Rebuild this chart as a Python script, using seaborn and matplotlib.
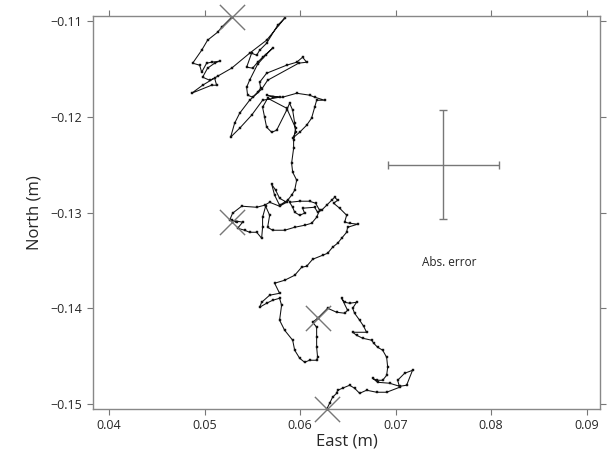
import numpy as np
import pandas as pd
import matplotlib
matplotlib.use("Agg")
import matplotlib.pyplot as plt
import seaborn as sns

# trajectory (East, North) in metres
east = [0.05283, 0.05178, 0.05136, 0.05031, 0.04969, 0.04875, 0.04948, 0.04969, 0.05021, 0.05073,
        0.05157, 0.05105, 0.05031, 0.04979, 0.05052, 0.05105, 0.05126, 0.05073, 0.04864, 0.04979,
        0.05136, 0.05283, 0.05471, 0.05649, 0.05838, 0.05765, 0.05649, 0.05576, 0.05545, 0.05492,
        0.05440, 0.05503, 0.05555, 0.05607, 0.05712, 0.05639, 0.05555, 0.05471, 0.05440, 0.05450,
        0.05503, 0.05555, 0.05587, 0.05576, 0.05649, 0.05859, 0.05964, 0.06026, 0.06068, 0.05985,
        0.05660, 0.05597, 0.05471, 0.05367, 0.05314, 0.05272, 0.05367, 0.05492, 0.05607, 0.05785,
        0.05649, 0.05712, 0.05817, 0.05964, 0.06099, 0.06152, 0.06257, 0.06173, 0.06152, 0.06120,
        0.06068, 0.05995, 0.05922, 0.05953, 0.05943, 0.05922, 0.05890, 0.05859, 0.05754, 0.05702,
        0.05649, 0.05628, 0.05607, 0.05660, 0.05859, 0.05953, 0.05932, 0.05932, 0.05911, 0.05922,
        0.05964, 0.05943, 0.05911, 0.05869, 0.05785, 0.05733, 0.05702, 0.05744, 0.05785, 0.05859,
        0.05785, 0.05681, 0.05628, 0.05545, 0.05388, 0.05293, 0.05262, 0.05335, 0.05283, 0.05398,
        0.05346, 0.05419, 0.05471, 0.05545, 0.05597, 0.05607, 0.05607, 0.05639, 0.05681, 0.05660,
        0.05712, 0.05838, 0.05943, 0.06047, 0.06120, 0.06173, 0.06204, 0.06162, 0.06099, 0.05995,
        0.05890, 0.05922, 0.05943, 0.05995, 0.06047, 0.06026, 0.06152, 0.06183, 0.06225, 0.06278,
        0.06330, 0.06361, 0.06393, 0.06351, 0.06414, 0.06487, 0.06466, 0.06518, 0.06602, 0.06497,
        0.06487, 0.06435, 0.06393, 0.06340, 0.06288, 0.06236, 0.06131, 0.06068, 0.06016, 0.05943,
        0.05838, 0.05733, 0.05785, 0.05681, 0.05597, 0.05576, 0.05649, 0.05712, 0.05785, 0.05806,
        0.05785, 0.05838, 0.05922, 0.05943, 0.05995, 0.06047, 0.06099, 0.06173, 0.06183, 0.06173,
        0.06173, 0.06173, 0.06131, 0.06183, 0.06288, 0.06382, 0.06466, 0.06497, 0.06435, 0.06466,
        0.06518, 0.06591, 0.06550, 0.06570, 0.06623, 0.06665, 0.06696, 0.06550, 0.06591, 0.06654,
        0.06749, 0.06770, 0.06811, 0.06864, 0.06906, 0.06917, 0.06906, 0.06864, 0.06801, 0.06759,
        0.06811, 0.06937, 0.07042, 0.07115, 0.07177, 0.07094, 0.07021, 0.07042, 0.06906, 0.06801,
        0.06696, 0.06623, 0.06570, 0.06518, 0.06445, 0.06393, 0.06382, 0.06340, 0.06309, 0.06278]
north = [-0.10961, -0.11066, -0.11118, -0.11201, -0.11306, -0.11441, -0.11462, -0.11535, -0.11441, -0.11431,
         -0.11420, -0.11441, -0.11493, -0.11587, -0.11619, -0.11598, -0.11671, -0.11671, -0.11755, -0.11671,
         -0.11577, -0.11493, -0.11337, -0.11201, -0.10972, -0.11045, -0.11233, -0.11306, -0.11358, -0.11337,
         -0.11483, -0.11493, -0.11431, -0.11379, -0.11285, -0.11358, -0.11452, -0.11619, -0.11692, -0.11775,
         -0.11796, -0.11744, -0.11702, -0.11640, -0.11546, -0.11462, -0.11431, -0.11379, -0.11431, -0.11441,
         -0.11619, -0.11713, -0.11828, -0.11963, -0.12068, -0.12214, -0.12120, -0.11984, -0.11828, -0.11796,
         -0.11775, -0.11796, -0.11796, -0.11755, -0.11775, -0.11796, -0.11828, -0.11828, -0.11901, -0.12015,
         -0.12089, -0.12162, -0.12224, -0.12162, -0.12068, -0.11932, -0.11859, -0.11932, -0.12141, -0.12162,
         -0.12109, -0.12005, -0.11901, -0.11807, -0.11911, -0.12120, -0.12245, -0.12329, -0.12485, -0.12579,
         -0.12662, -0.12767, -0.12819, -0.12872, -0.12924, -0.12819, -0.12705, -0.12767, -0.12851, -0.12893,
         -0.12934, -0.12893, -0.12924, -0.12945, -0.12934, -0.13007, -0.13080, -0.13101, -0.13080, -0.13101,
         -0.13164, -0.13185, -0.13206, -0.13206, -0.13268, -0.13154, -0.13049, -0.12934, -0.13028, -0.13154,
         -0.13185, -0.13185, -0.13154, -0.13133, -0.13112, -0.13049, -0.12976, -0.12903, -0.12882, -0.12882,
         -0.12893, -0.12945, -0.12997, -0.13028, -0.13007, -0.12955, -0.12945, -0.12997, -0.12976, -0.12924,
         -0.12872, -0.12840, -0.12872, -0.12903, -0.12955, -0.13028, -0.13101, -0.13112, -0.13122, -0.13154,
         -0.13206, -0.13268, -0.13320, -0.13362, -0.13425, -0.13446, -0.13488, -0.13561, -0.13571, -0.13655,
         -0.13707, -0.13738, -0.13843, -0.13863, -0.13937, -0.13989, -0.13947, -0.13916, -0.13895, -0.13968,
         -0.14124, -0.14229, -0.14333, -0.14437, -0.14521, -0.14563, -0.14542, -0.14542, -0.14511, -0.14406,
         -0.14302, -0.14197, -0.14145, -0.14104, -0.13999, -0.14041, -0.14051, -0.14020, -0.13895, -0.13937,
         -0.13947, -0.13937, -0.13999, -0.14051, -0.14124, -0.14187, -0.14250, -0.14250, -0.14281, -0.14312,
         -0.14333, -0.14364, -0.14406, -0.14437, -0.14511, -0.14615, -0.14699, -0.14751, -0.14751, -0.14730,
         -0.14772, -0.14782, -0.14814, -0.14803, -0.14647, -0.14678, -0.14751, -0.14824, -0.14876, -0.14876,
         -0.14855, -0.14887, -0.14834, -0.14803, -0.14834, -0.14855, -0.14887, -0.14928, -0.14991, -0.15054]

# big X markers along the track
mark_east = [0.05283, 0.05283, 0.06183, 0.06278]
mark_north = [-0.10961, -0.13101, -0.14104, -0.15054]

# absolute error cross
err_east, err_north = 0.075, -0.125
err_x, err_y = 0.0058, 0.0057

xticks = [0.04, 0.05, 0.06, 0.07, 0.08, 0.09]
yticks = [-0.15, -0.14, -0.13, -0.12, -0.11]

sns.set_style("ticks")
plt.rcParams['font.family'] = ['Open Sans', 'DejaVu Sans']

df = pd.DataFrame({'east': east, 'north': north})

fig = plt.figure(figsize=(6.11, 4.61), dpi=100)
ax = fig.add_axes([0.152, 0.113, 0.83, 0.852])

sns.lineplot(data=df, x='east', y='north', sort=False, estimator=None, ax=ax,
             color='#111111', lw=0.75, marker='s', markersize=1.6, mec='#111111', mew=0.3)
sns.scatterplot(x=mark_east, y=mark_north, marker='x', s=330, color='#777777',
                linewidth=1.0, ax=ax, clip_on=False, zorder=3)
ax.errorbar(err_east, err_north, xerr=err_x, yerr=err_y, color='#777777',
            lw=1.0, capsize=3, capthick=1.0)
ax.text(0.0756, -0.1352, 'Abs. error', fontsize=8.5, ha='center', va='center')

ax.set_xlim(0.0383, 0.0914)
ax.set_ylim(-0.1505, -0.1095)
ax.set_xticks(xticks)
ax.set_yticks(yticks)
ax.set_xticklabels([f'{v:.2f}' for v in xticks])
ax.set_yticklabels([f'\u2212{abs(v):.2f}' for v in yticks])
ax.tick_params(direction='out', length=4, width=0.8, color='#777777', labelsize=9,
               top=True, right=True)
for s in ax.spines.values():
    s.set_color('#888888')
    s.set_linewidth(1.0)
ax.set_xlabel('East (m)', fontsize=12, labelpad=1)
ax.set_ylabel('North (m)', fontsize=12, labelpad=6)

fig.savefig('out.png', dpi=100)
